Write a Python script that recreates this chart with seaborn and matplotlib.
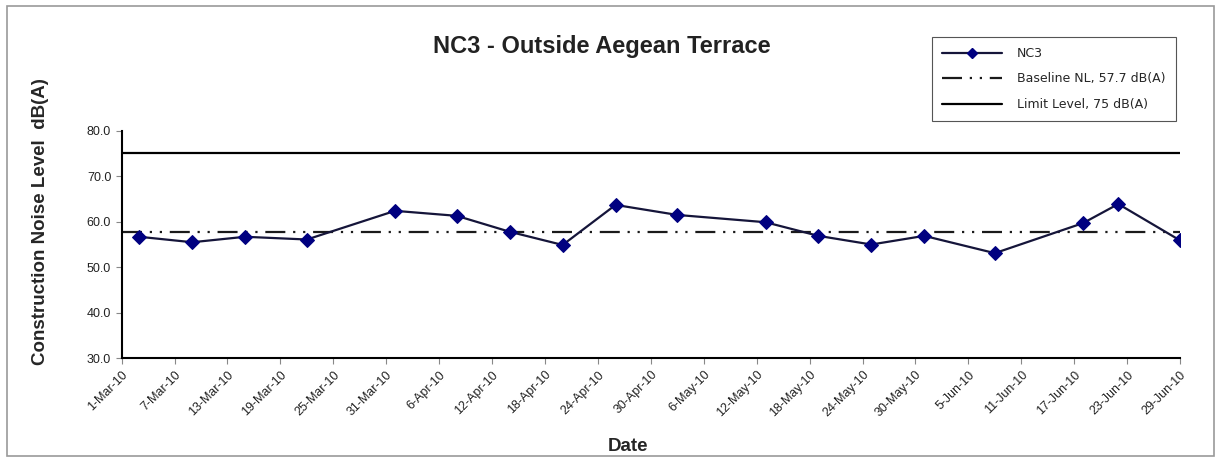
import numpy as np
import pandas as pd
import matplotlib
matplotlib.use('Agg')
import matplotlib.pyplot as plt
import matplotlib.dates as mdates
from matplotlib.lines import Line2D
from matplotlib.patches import Rectangle
import seaborn as sns

dates = ['2010-03-03', '2010-03-09', '2010-03-15', '2010-03-22', '2010-04-01',
         '2010-04-08', '2010-04-14', '2010-04-20', '2010-04-26', '2010-05-03',
         '2010-05-13', '2010-05-19', '2010-05-25', '2010-05-31', '2010-06-08',
         '2010-06-18', '2010-06-22', '2010-06-29']
nc3 = [56.7, 55.5, 56.7, 56.1, 62.4, 61.3, 57.8, 54.9, 63.7, 61.5,
       59.9, 56.9, 55.0, 56.9, 53.1, 59.7, 63.9, 55.9]
baseline = 57.7
limit = 75
tick_dates = pd.date_range('2010-03-01', '2010-06-29', freq='6D')
y_ticks = [30, 40, 50, 60, 70, 80]

df = pd.DataFrame({'Date': pd.to_datetime(dates), 'NC3': nc3})

sns.set_style('white')
plt.rcParams['font.family'] = ['Liberation Sans', 'DejaVu Sans']

fig = plt.figure(figsize=(12.25, 4.62), dpi=100)
ax = fig.add_axes([0.0993, 0.2245, 0.8640, 0.4925])

# outer chart frame
fig.patches.append(Rectangle((0.006, 0.012), 0.985, 0.975, transform=fig.transFigure,
                             fill=False, edgecolor='#9a9a9a', linewidth=1.2))

dashdotdot = (0, (9, 3.5, 1, 3.5, 1, 3.5))
ax.axhline(limit, color='black', linewidth=1.6, zorder=2)
ax.axhline(baseline, color='#1a1a1a', linewidth=1.6, linestyle=dashdotdot, zorder=2)
sns.lineplot(data=df, x='Date', y='NC3', ax=ax, color='#15153a', linewidth=1.6,
             marker='D', markersize=7, markerfacecolor='#000080',
             markeredgecolor='#000080', zorder=3)

ax.set_xlim(pd.Timestamp('2010-03-01'), pd.Timestamp('2010-06-29'))
ax.set_ylim(30, 80)
ax.set_yticks(y_ticks)
ax.set_yticklabels([f'{v:.1f}' for v in y_ticks], fontsize=9, color='#222222')
ax.set_xticks(mdates.date2num(tick_dates))
ax.set_xticklabels([f"{d.day}-{d.strftime('%b-%y')}" for d in tick_dates],
                   rotation=45, ha='right', rotation_mode='anchor',
                   fontsize=9, color='#222222')
ax.tick_params(axis='both', direction='out', length=4, width=0.8, color='#888888',
               bottom=True, left=True)

for s in ['top', 'right']:
    ax.spines[s].set_visible(False)
for s in ['left', 'bottom']:
    ax.spines[s].set_color('black')
    ax.spines[s].set_linewidth(1.5)

ax.set_xlabel('Date', fontsize=13.5, fontweight='bold')
ax.set_ylabel('Construction Noise Level  dB(A)', fontsize=13.5, fontweight='bold')
ax.yaxis.set_label_coords(-0.069, 0.6)
ax.xaxis.set_label_coords(0.478, -0.35)

fig.text(0.491, 0.9, 'NC3 - Outside Aegean Terrace', ha='center', va='center',
         fontsize=17, fontweight='bold', color='#222222')

handles = [
    Line2D([], [], color='#15153a', linewidth=1.6, marker='D', markersize=5,
           markerfacecolor='#000080', markeredgecolor='#000080'),
    Line2D([], [], color='#1a1a1a', linewidth=1.6, linestyle=dashdotdot),
    Line2D([], [], color='black', linewidth=1.6),
]
labels = ['NC3', 'Baseline NL, 57.7 dB(A)', 'Limit Level, 75 dB(A)']
leg = fig.legend(handles, labels, loc='upper left', bbox_to_anchor=(0.761, 0.92),
                 prop={'family': 'DejaVu Sans', 'size': 9}, frameon=True,
                 fancybox=False, framealpha=1, edgecolor='#555555',
                 handlelength=4.8, labelspacing=1.0, borderpad=0.8,
                 handletextpad=1.2, borderaxespad=0)
leg.get_frame().set_linewidth(0.8)

fig.savefig('out.png', dpi=100)
